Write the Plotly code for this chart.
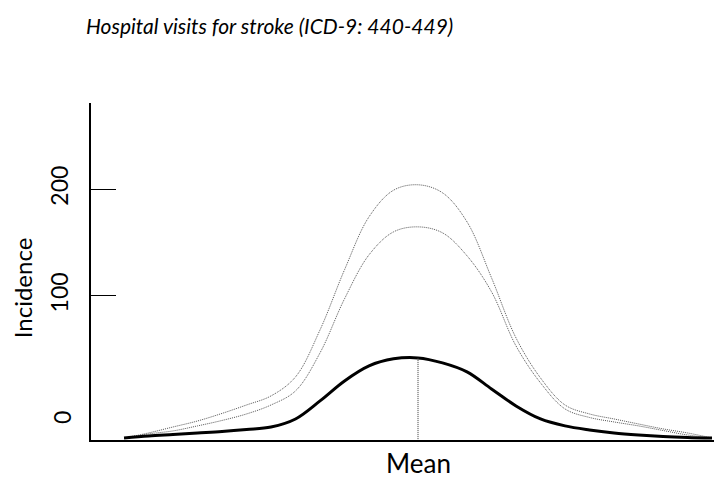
"""
Schematic of stroke hospital visits around the mean (Plotly re-draw).
"""

import plotly.graph_objects as go

# x in standard deviations from the mean, every quarter sd
X_SD = [-3.0, -2.75, -2.5, -2.25, -2.0, -1.75, -1.5, -1.25, -1.0, -0.75, -0.5, -0.25, 0.0,
        0.25, 0.5, 0.75, 1.0, 1.25, 1.5, 1.75, 2.0, 2.25, 2.5, 2.75, 3.0]

UPPER = [-33.1, -28.4, -22.8, -17.2, -10.1, -2.2, 6.3, 24.1, 68.1, 124.4, 174.0, 198.9, 204.0,
         196.5, 169.3, 116.9, 60.6, 23.1, -2.2, -10.6, -15.3, -20.0, -24.6, -28.4, -33.1]
MIDDLE = [-33.1, -29.3, -26.5, -21.8, -16.7, -10.6, -2.2, 11.0, 46.6, 97.2, 138.4, 159.9, 164.6,
          159.0, 137.5, 103.8, 53.1, 18.5, -5.9, -13.9, -18.1, -21.8, -26.1, -30.3, -33.1]
BASE = [-33.1, -31.2, -29.8, -28.4, -27.0, -25.1, -22.8, -15.3, 1.6, 20.3, 34.4, 41.0, 41.9,
        37.2, 28.8, 12.8, -3.1, -15.3, -21.8, -25.6, -28.4, -30.3, -31.7, -32.6, -33.1]

MEAN_X = 0.0
MEAN_PEAK = 41.9
Y_BOTTOM = -35.0

Y_TICKS = [100, 200]
Y_TICK_TEXT = ["100", "200"]

FONT = "Lato, 'Open Sans', sans-serif"

fig = go.Figure()

for ys in (UPPER, MIDDLE):
    fig.add_trace(go.Scatter(
        x=X_SD, y=ys, mode="lines",
        line=dict(color="#555555", width=1, dash="1px,1px", shape="spline", smoothing=1.0),
        hoverinfo="skip", showlegend=False,
    ))

fig.add_trace(go.Scatter(
    x=X_SD, y=BASE, mode="lines",
    line=dict(color="black", width=3, shape="spline", smoothing=1.0),
    hoverinfo="skip", showlegend=False,
))

# dotted drop line at the mean
fig.add_trace(go.Scatter(
    x=[MEAN_X, MEAN_X], y=[MEAN_PEAK, Y_BOTTOM], mode="lines",
    line=dict(color="#333333", width=1, dash="1px,1px"),
    hoverinfo="skip", showlegend=False,
))

# page body has an 8px margin, so the figure is 8px smaller and shifted up/left
fig.update_layout(
    width=714, height=470,
    margin=dict(l=83, r=0, t=95, b=38),
    plot_bgcolor="white", paper_bgcolor="white",
    font=dict(family=FONT, color="black"),
    xaxis=dict(
        range=[-3.337, 3.102], showgrid=False, zeroline=False,
        showticklabels=False, ticks="",
        showline=True, linecolor="black", linewidth=2,
    ),
    yaxis=dict(
        range=[Y_BOTTOM, 280.6], showgrid=False, zeroline=False,
        tickvals=Y_TICKS, ticktext=Y_TICK_TEXT,
        ticks="inside", ticklen=25, tickwidth=1, tickcolor="black",
        tickangle=-90, tickfont=dict(size=23, family=FONT),
        ticklabelstandoff=12,
        showline=True, linecolor="black", linewidth=2,
    ),
    annotations=[
        dict(text="<i>Hospital visits for stroke (ICD-9: 440-449)</i>",
             xref="paper", yref="paper", x=-0.011, y=1.231,
             xanchor="left", yanchor="middle", showarrow=False,
             font=dict(size=21, family=FONT)),
        dict(text="Incidence", xref="paper", yref="paper", x=-0.109, y=0.451,
             xanchor="center", yanchor="middle", textangle=-90, showarrow=False,
             font=dict(size=24, family=FONT)),
        dict(text="0", xref="paper", yref="paper", x=(62 - 91) / 631, y=0.065,
             xanchor="center", yanchor="middle", textangle=-90, showarrow=False,
             font=dict(size=23, family=FONT)),
        dict(text="Mean", xref="x", yref="paper", x=MEAN_X, y=-0.068,
             xanchor="center", yanchor="middle", showarrow=False,
             font=dict(size=26, family=FONT)),
    ],
)

fig.write_html("out.html")
